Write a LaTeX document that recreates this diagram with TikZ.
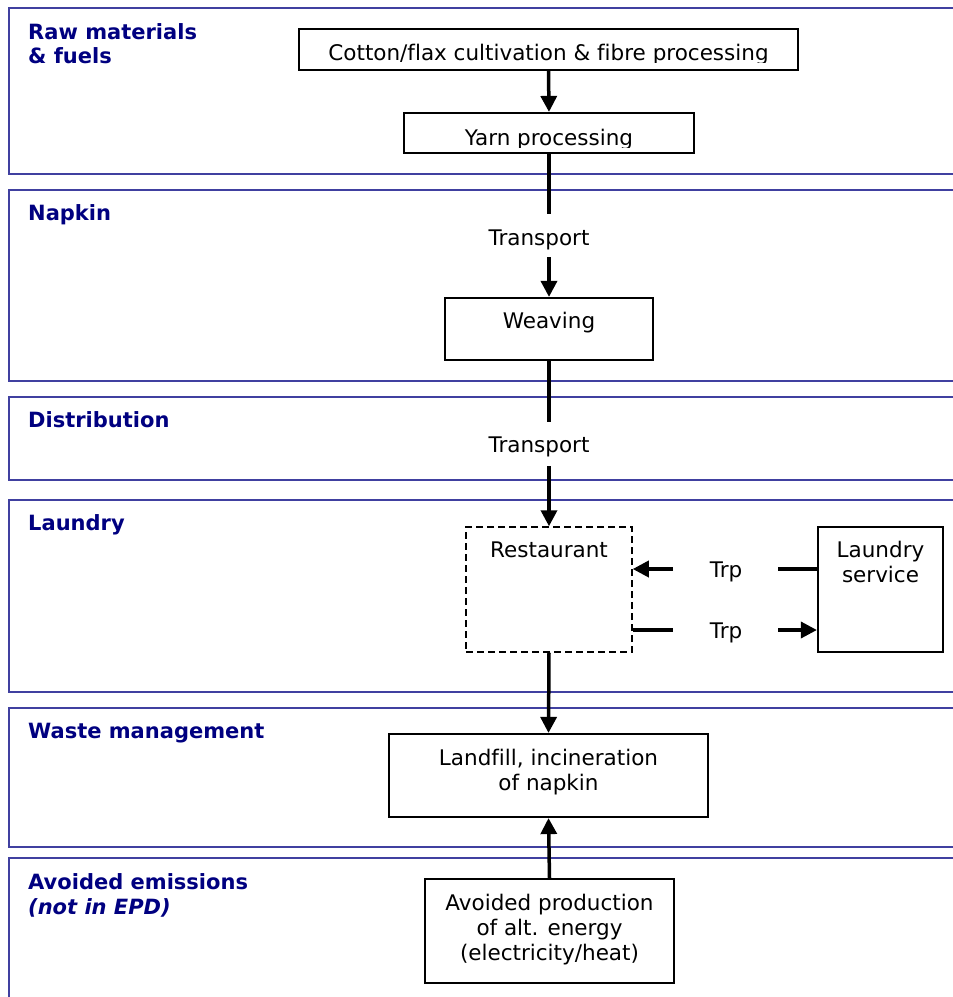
\documentclass[tikz,border=0pt]{standalone}
\usepackage{fontspec}
\setmainfont[Ligatures=NoCommon]{DejaVu Sans}
\usetikzlibrary{arrows.meta}
\definecolor{bandline}{RGB}{64,64,160}
\definecolor{navy}{RGB}{0,0,128}
\begin{document}
\begin{tikzpicture}[x=1pt,y=-1pt,
  band/.style={draw=bandline, line width=1.5pt},
  head/.style={text=navy, font=\fontsize{21}{24}\selectfont\bfseries, anchor=base west, inner sep=0pt},
  box/.style={draw, line width=2.2pt, inner sep=0pt},
  dbox/.style={draw, line width=1.5pt, dash pattern=on 7pt off 4pt, inner sep=0pt},
  lbl/.style={font=\fontsize{21.5}{25}\selectfont, anchor=base, inner sep=0pt},
  flow/.style={line width=3.5pt},
  arr/.style={flow, -{Triangle[length=16pt,width=16pt]}}
]
\useasboundingbox (0,0) rectangle (953,997);
% bands
\draw[band] (960,8) -- (9,8) -- (9,174) -- (960,174);
\draw[band] (960,190) -- (9,190) -- (9,381) -- (960,381);
\draw[band] (960,397) -- (9,397) -- (9,480) -- (960,480);
\draw[band] (960,500) -- (9,500) -- (9,692) -- (960,692);
\draw[band] (960,708) -- (9,708) -- (9,847) -- (960,847);
\draw[band] (960,858) -- (9,858) -- (9,1000);
% headings
\node[head] (h1) at (28,39) {Raw materials};
\node[head] (h1b) at (28,63) {\& fuels};
\node[head] (h2) at (28,220) {Napkin};
\node[head] (h3) at (28,427) {Distribution};
\node[head] (h4) at (28,530) {Laundry};
\node[head] (h5) at (28,738) {Waste management};
\node[head] (h6) at (28,889) {Avoided emissions};
\node[head] (h6b) at (28,914) {\itshape (not in EPD)};
% boxes
\node[box, minimum width=499pt, minimum height=41pt] (cot) at (548.5,49.5) {};
\begin{scope}
  \clip (300,30) rectangle (797,62);
  \node[lbl] (cott) at (548.5,60) {Cotton/flax cultivation \& fibre processing};
\end{scope}
\node[box, minimum width=290pt, minimum height=40pt] (yarn) at (549,133) {};
\begin{scope}
  \clip (405,114) rectangle (693,147);
  \node[lbl] (yarnt) at (549,145) {Yarn processing};
\end{scope}
\node[box, minimum width=208pt, minimum height=62pt] (weave) at (549,329) {};
\node[lbl] (weavet) at (549,328) {Weaving};
\node[dbox, minimum width=166pt, minimum height=125pt] (rest) at (549,589.5) {};
\node[lbl] (restt) at (549,557) {Restaurant};
\node[box, minimum width=125pt, minimum height=125pt] (laun) at (880.5,589.5) {};
\node[lbl, align=center] (launt) at (880.5,582) {Laundry\\service};
\node[box, minimum width=319pt, minimum height=83pt] (land) at (548.5,775.5) {};
\node[lbl, align=center] (landt) at (548.5,790) {Landfill, incineration\\of napkin};
\node[box, minimum width=249pt, minimum height=104pt] (avoid) at (549.5,931) {};
\node[lbl, align=center] (avoidt) at (549.5,960) {Avoided production\\of alt. energy\\(electricity/heat)};
% transport labels
\node[lbl] (tr1) at (539,245) {Transport};
\node[lbl] (tr2) at (539,452) {Transport};
\node[lbl] (trp1) at (726,577) {Trp};
\node[lbl] (trp2) at (726,638) {Trp};
% coordinates
\coordinate (a1) at (549,214);
\coordinate (a2) at (549,257);
\coordinate (b1) at (549,422);
\coordinate (b2) at (549,466);
\coordinate (c1) at (673,569);
\coordinate (c2) at (778,569);
\coordinate (d1) at (673,630);
\coordinate (d2) at (778,630);
% connectors
\draw[arr] (cot.south) -- (yarn.north);
\draw[flow] (yarn.south) -- (a1);
\draw[arr] (a2) -- (weave.north);
\draw[flow] (weave.south) -- (b1);
\draw[arr] (b2) -- (rest.north);
\draw[arr] (c1) -- (rest.east |- c1);
\draw[flow] (laun.west |- c2) -- (c2);
\draw[flow] (rest.east |- d1) -- (d1);
\draw[arr] (d2) -- (laun.west |- d2);
\draw[arr] (rest.south) -- (land.north);
\draw[arr] (avoid.north) -- (land.south);
\end{tikzpicture}
\end{document}
